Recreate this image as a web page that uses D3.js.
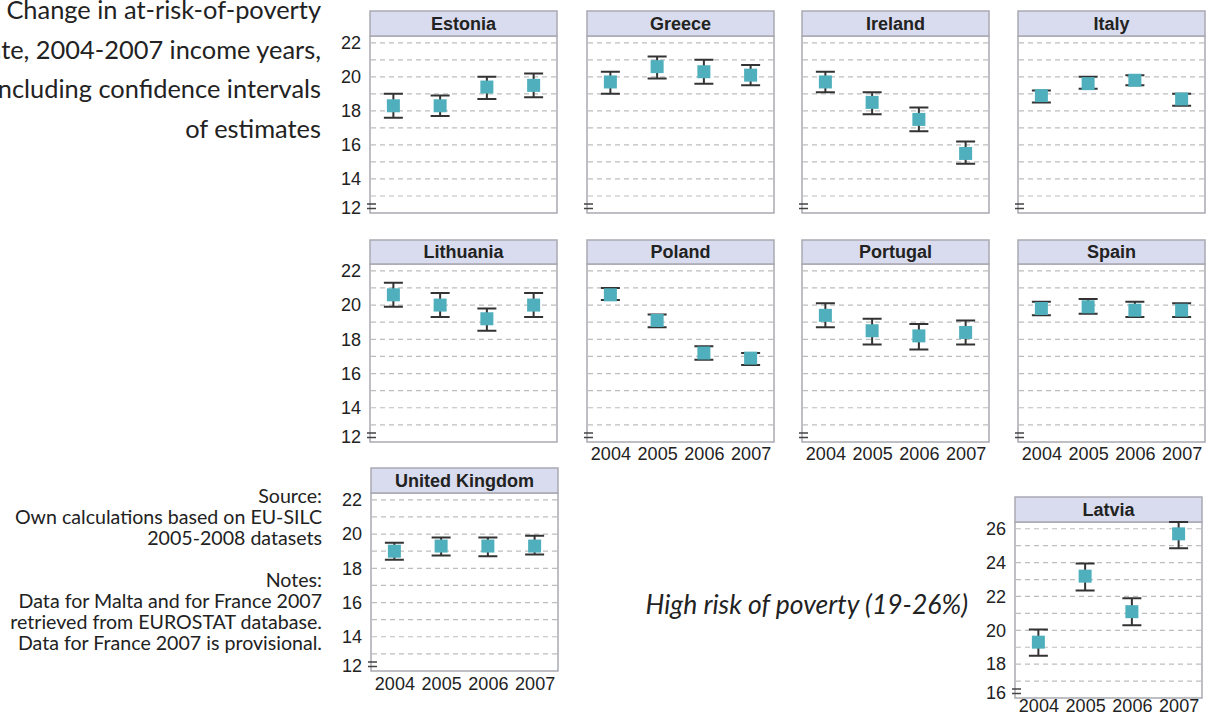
<!DOCTYPE html>
<html>
<head>
<meta charset="utf-8">
<style>
    body { margin: 0; background: white; }
    .frame { fill: none; stroke: #a9a9b2; stroke-width: 1.5; }
    .header { fill: #d9dcee; stroke: #a9a9b2; stroke-width: 1.5; }
    .grid { stroke: #bdbdbd; stroke-width: 1.2; stroke-dasharray: 5 4; }
    .ci { stroke: #333; stroke-width: 2; fill: none; }
    .marker { fill: #4fafbc; }
    .titre { font-family: Lato, "Open Sans", sans-serif; fill: #222; }
    .axis text { font-family: "Liberation Sans Narrow", "Arial Narrow", "Liberation Sans", sans-serif; font-size: 18px; fill: #222; }
    .axis path { display: none; }
</style>
</head>
<body>
<div id="plateau"></div>
<script src="https://cdnjs.cloudflare.com/ajax/libs/d3/7.8.5/d3.min.js"></script>
<script>

//////////////////// donnees ////////////////////
const YEARS = ['2004', '2005', '2006', '2007'];
const COUNTRIES = ['Estonia', 'Greece', 'Ireland', 'Italy',
                   'Lithuania', 'Poland', 'Portugal', 'Spain',
                   'United Kingdom', 'Latvia'];
// at-risk-of-poverty rate (%)
const RATE = [
    [18.3, 18.3, 19.4, 19.5],
    [19.7, 20.6, 20.3, 20.1],
    [19.7, 18.5, 17.5, 15.5],
    [18.9, 19.6, 19.8, 18.7],
    [20.6, 20.0, 19.2, 20.0],
    [20.6, 19.1, 17.2, 16.9],
    [19.4, 18.5, 18.2, 18.4],
    [19.8, 19.9, 19.7, 19.7],
    [19.0, 19.3, 19.3, 19.3],
    [19.3, 23.2, 21.1, 25.7]
];
// confidence intervals
const CI_LOW = [
    [17.6, 17.7, 18.7, 18.8],
    [19.0, 19.9, 19.6, 19.5],
    [19.1, 17.8, 16.8, 14.9],
    [18.5, 19.3, 19.5, 18.3],
    [19.9, 19.3, 18.5, 19.3],
    [20.3, 18.7, 16.8, 16.5],
    [18.7, 17.7, 17.4, 17.7],
    [19.4, 19.5, 19.3, 19.3],
    [18.5, 18.75, 18.7, 18.8],
    [18.5, 22.35, 20.3, 24.85]
];
const CI_HIGH = [
    [19.0, 18.9, 20.0, 20.2],
    [20.3, 21.2, 21.0, 20.7],
    [20.3, 19.1, 18.2, 16.2],
    [19.2, 20.0, 20.1, 19.0],
    [21.3, 20.7, 19.8, 20.7],
    [21.0, 19.45, 17.6, 17.2],
    [20.1, 19.2, 18.9, 19.1],
    [20.2, 20.35, 20.2, 20.1],
    [19.5, 19.8, 19.8, 19.9],
    [20.05, 23.95, 21.9, 26.4]
];
const Y_MIN = [12, 12, 12, 12, 12, 12, 12, 12, 12, 16];
const Y_TICKS = [
    [12, 14, 16, 18, 20, 22],
    [16, 18, 20, 22, 24, 26]
];

//////////////////// mise en page ////////////////////
const W = 1206, H = 718;
const PANEL_W = 187;
const SPAN = 10.4;
const MARK = 13;
const CAP = 19;

// x, y, hauteur totale, hauteur du titre, axe y, axe x (ecart des annees, -1 = pas d'axe)
const LAYOUT = [
    [370, 11, 202, 25, true, -1],
    [587, 11, 202, 25, false, -1],
    [802, 11, 202, 25, false, -1],
    [1018, 11, 202, 25, false, -1],
    [370, 240, 202, 24, true, -1],
    [587, 240, 202, 24, false, 5],
    [802, 240, 202, 24, false, 5],
    [1018, 240, 202, 24, false, 5],
    [371, 468, 203, 25, true, 6],
    [1015, 497, 201, 25, true, 1]
];

let svg = d3.select('#plateau').append('svg')
    .attr('width', W)
    .attr('height', H);

COUNTRIES.forEach((pays, i) => genPanel(pays, i));

function genPanel(pays, i) {
    let [px, py, ph, hh, has_y, x_pad] = LAYOUT[i];
    let g = svg.append('g').attr('transform', `translate(${px}, ${py})`);

    let x = d3.scalePoint().domain(YEARS).range([0, PANEL_W]).padding(0.5);
    let y = d3.scaleLinear().domain([Y_MIN[i], Y_MIN[i] + SPAN]).range([ph, hh]);

    // fond + grille
    g.append('rect')
        .attr('x', 0).attr('y', hh)
        .attr('width', PANEL_W).attr('height', ph - hh)
        .attr('fill', 'white');
    g.selectAll('.grid')
        .data(d3.range(Y_MIN[i] + 1, Y_MIN[i] + SPAN))
        .join('line')
        .classed('grid', true)
        .attr('x1', 1).attr('x2', PANEL_W - 1)
        .attr('y1', d => y(d)).attr('y2', d => y(d));

    g.append('rect')
        .classed('frame', true)
        .attr('x', 0).attr('y', hh)
        .attr('width', PANEL_W).attr('height', ph - hh);

    // titre du pays
    g.append('rect')
        .classed('header', true)
        .attr('x', 0).attr('y', 0)
        .attr('width', PANEL_W).attr('height', hh);
    g.append('text')
        .attr('x', PANEL_W / 2).attr('y', hh / 2)
        .attr('dy', '0.36em')
        .attr('text-anchor', 'middle')
        .style('font-family', '"Liberation Sans", Arial, sans-serif')
        .style('font-weight', 'bold')
        .style('font-size', '18px')
        .style('fill', '#222')
        .text(pays);

    // intervalles de confiance
    let pts = YEARS.map((yr, k) => ({yr: yr, v: RATE[i][k], lo: CI_LOW[i][k], hi: CI_HIGH[i][k]}));
    g.selectAll('.ci').data(pts).join('path')
        .classed('ci', true)
        .attr('d', d => {
            let cx = x(d.yr);
            return `M ${cx - CAP/2} ${y(d.hi)} L ${cx + CAP/2} ${y(d.hi)} M ${cx} ${y(d.hi)} L ${cx} ${y(d.lo)} M ${cx - CAP/2} ${y(d.lo)} L ${cx + CAP/2} ${y(d.lo)}`;
        });
    g.selectAll('.marker').data(pts).join('rect')
        .classed('marker', true)
        .attr('x', d => x(d.yr) - MARK/2)
        .attr('y', d => y(d.v) - MARK/2)
        .attr('width', MARK).attr('height', MARK);

    // coupure d'axe
    g.append('path')
        .attr('d', `M -3 ${ph - 9} L 6 ${ph - 9} M -3 ${ph - 4.5} L 6 ${ph - 4.5}`)
        .attr('stroke', '#444').attr('stroke-width', 1.3);

    if (has_y) {
        let ticks = Y_MIN[i] == 12 ? Y_TICKS[0] : Y_TICKS[1];
        let ax = g.append('g').classed('axis', true)
            .call(d3.axisLeft(y).tickValues(ticks).tickSize(0).tickPadding(9));
        ax.selectAll('.tick')
            .filter(d => d == Y_MIN[i])
            .select('text').attr('dy', '0.0em');
    }
    if (x_pad >= 0) {
        g.append('g').classed('axis', true)
            .attr('transform', `translate(0, ${ph})`)
            .call(d3.axisBottom(x).tickSize(0).tickPadding(x_pad));
    }
}

//////////////////// textes ////////////////////
const TITLE_LINES = ['Change in at-risk-of-poverty', 'rate, 2004-2007 income years,',
                     'including confidence intervals', 'of estimates'];
const NOTE_LINES = ['Source:', 'Own calculations based on EU-SILC', '2005-2008 datasets', '',
                    'Notes:', 'Data for Malta and for France 2007',
                    'retrieved from EUROSTAT database.', 'Data for France 2007 is provisional.'];

svg.append('g').selectAll('text')
    .data(TITLE_LINES).join('text')
    .classed('titre', true)
    .attr('x', 321)
    .attr('y', (d, k) => 19 + k * 39.7)
    .attr('text-anchor', 'end')
    .style('font-size', '25.4px')
    .text(d => d);

svg.append('g').selectAll('text')
    .data(NOTE_LINES).join('text')
    .classed('titre', true)
    .attr('x', 322)
    .attr('y', (d, k) => 503 + k * 21)
    .attr('text-anchor', 'end')
    .style('font-size', '19.6px')
    .text(d => d);

svg.append('text')
    .classed('titre', true)
    .attr('x', 968).attr('y', 614)
    .attr('text-anchor', 'end')
    .style('font-size', '26.5px')
    .style('font-style', 'italic')
    .text('High risk of poverty (19-26%)');

</script>
</body>
</html>
